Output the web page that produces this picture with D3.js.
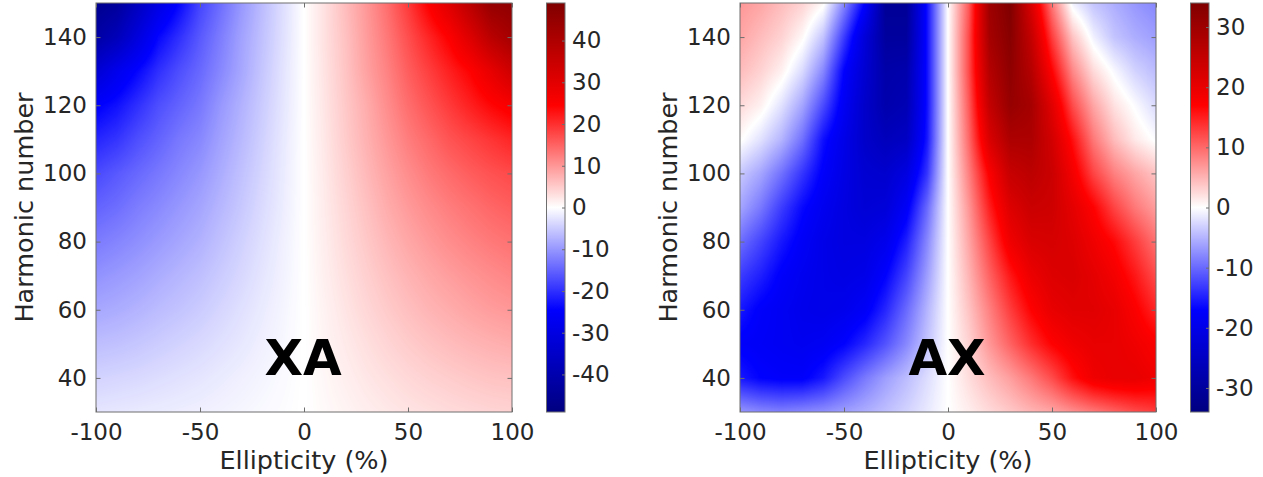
<!DOCTYPE html>
<html>
<head>
<meta charset="utf-8">
<script src="https://cdn.jsdelivr.net/npm/d3@7"></script>
<style>
  body { margin: 0; background: #ffffff; }
  svg { display: block; }
  text { font-family: "DejaVu Sans", sans-serif; }
</style>
</head>
<body>
<svg id="chart" width="1263" height="477"></svg>
<script>
// ---------------- data ----------------
const ellipticity = [-100, -90, -80, -70, -60, -50, -40, -30, -20, -10, 0, 10, 20, 30, 40, 50, 60, 70, 80, 90, 100];
const harmonics = [30, 40, 50, 60, 70, 80, 90, 100, 110, 120, 130, 140, 150];

// XA panel: one row per harmonic (30 .. 150), one value per ellipticity (-100 .. 100)
const xaValues = [
  [-2.5, -2.3, -2.1, -1.9, -1.7, -1.5, -1.2, -0.9, -0.6, -0.3, 0, 0.6, 1.1, 1.7, 2.2, 2.7, 3.1, 3.5, 3.8, 4.1, 4.3],
  [-4.3, -4, -3.7, -3.3, -2.9, -2.5, -2, -1.5, -1, -0.5, 0, 0.8, 1.6, 2.4, 3.1, 3.8, 4.4, 4.9, 5.4, 5.8, 6],
  [-6.3, -6, -5.5, -4.9, -4.3, -3.7, -3, -2.3, -1.5, -0.8, 0, 1.1, 2.1, 3.1, 4.1, 5, 5.8, 6.5, 7.1, 7.6, 8],
  [-8.5, -8, -7.3, -6.5, -5.8, -5, -4, -3, -2, -1, 0, 1.3, 2.6, 3.9, 5.1, 6.2, 7.2, 8, 8.8, 9.5, 10],
  [-10.5, -9.8, -9, -8, -7.1, -6.2, -5, -3.8, -2.5, -1.3, 0, 1.6, 3.1, 4.6, 6, 7.3, 8.4, 9.4, 10.3, 11.1, 11.8],
  [-12.7, -11.8, -10.8, -9.7, -8.6, -7.5, -6, -4.5, -3, -1.5, 0, 1.8, 3.6, 5.3, 7, 8.5, 9.8, 11, 12, 12.9, 13.6],
  [-15, -14, -12.5, -11.3, -10, -8.7, -7, -5.3, -3.5, -1.8, 0, 2, 4, 6, 8, 9.7, 11.2, 12.5, 13.6, 14.7, 15.5],
  [-17.5, -16, -14.5, -13, -11.5, -10, -8, -6, -4, -2, 0, 2.2, 4.5, 6.8, 9, 11, 12.8, 14.3, 15.6, 16.7, 17.5],
  [-21, -19.5, -17, -15, -13, -11.5, -9, -6.8, -4.5, -2.2, 0, 2.4, 5, 7.5, 10, 12.5, 14.5, 16.5, 18, 19.5, 21],
  [-25, -23, -20, -17, -15, -13, -10, -7.5, -5, -2.5, 0, 2.6, 5.3, 8, 11, 14, 16.5, 19, 21.5, 24, 26],
  [-33, -28, -24, -20, -17, -14.5, -11.5, -8.5, -5.5, -2.7, 0, 2.8, 5.7, 9, 12, 15.5, 18.5, 21.5, 24.5, 29, 34],
  [-42, -38, -31, -24, -20, -16, -12.5, -9, -6, -3, 0, 3, 6, 9.5, 13, 17, 21, 25, 31, 38, 42],
  [-46, -44, -37, -30, -24, -18, -14, -10, -6.5, -3.2, 0, 3, 6.5, 10, 14, 19, 25, 31, 38, 45, 46]
];

// AX panel: one row per harmonic (30 .. 150), one value per ellipticity (-100 .. 100)
const axValues = [
  [-7, -8, -8.5, -8, -7.5, -6.5, -5.5, -4.3, -3, -1.5, 0, 1.2, 2.5, 3.7, 5, 6, 7.5, 9, 10.5, 12, 13],
  [-15.5, -17, -17.5, -17.5, -15.5, -12, -9, -6.5, -4.5, -2.3, 0, 2.3, 4.5, 6.5, 9, 12, 16, 19, 20, 20, 19],
  [-17.5, -18, -18.5, -19, -18.5, -17, -14.5, -11.5, -8, -4, 0, 3, 7, 10.5, 14, 17, 19, 20, 20, 19, 17.5],
  [-15.5, -17.5, -18.5, -19.5, -20, -19.5, -18, -14.5, -10, -5, 0, 4, 8.5, 13, 17, 20, 21, 21, 20, 17.5, 14.5],
  [-13, -15, -17.5, -19, -20, -20.5, -20, -17, -12.5, -6.5, 0, 5, 10.5, 15.5, 19.5, 21.5, 22, 20.5, 18.5, 15.5, 12],
  [-9.7, -12.5, -15.5, -18, -20, -21, -21, -19.5, -15, -8, 0, 6, 12.5, 19, 22, 22.5, 21.5, 19, 16.5, 13, 9.5],
  [-6, -9, -13, -16.5, -19, -21, -22.5, -22, -18, -10, 0, 7, 15, 21.5, 24, 23.5, 20.5, 17, 12.5, 9, 6.5],
  [-3.7, -6, -9.5, -13.5, -17.5, -20.5, -23, -23.5, -21, -13.5, 0, 8.5, 17.5, 24.5, 26, 24, 18.5, 12.5, 8.5, 6, 4],
  [0.3, -2, -5, -9.5, -16, -20, -24, -26, -25, -15.5, 0, 10, 22, 28, 28, 23, 16, 9, 4.5, 1.5, -0.3],
  [2.5, 1, -2, -6, -12, -18.5, -24, -28, -27, -16, 0, 11, 25, 31, 29, 21, 12, 6, 2, -0.3, -2.5],
  [4.5, 3, 1, -2.5, -8, -17, -23, -28.5, -28, -16, 0, 12, 27, 32, 27, 17, 8, 2.5, -0.5, -3, -4.5],
  [6, 4.5, 3, 0.5, -4, -13, -22, -30, -30, -16, 0, 12, 29, 33, 25, 13, 4, -1, -4, -5.5, -6.5],
  [7, 6, 4.5, 3, 0.5, -8, -17, -31, -31, -16, 0, 11, 30, 34, 22, 9, -1, -4, -5.5, -7, -8]
];

const xTicks = [-100, -50, 0, 50, 100];
const yTicks = [40, 60, 80, 100, 120, 140];
const xaColorTicks = [-40, -30, -20, -10, 0, 10, 20, 30, 40];
const axColorTicks = [-30, -20, -10, 0, 10, 20, 30];
const xaLimit = 49;
const axLimit = 34;
const panelNames = ["XA", "AX"];
const xLabel = "Ellipticity (%)";
const yLabel = "Harmonic number";
const colormapColors = ["#000080", "#0000ff", "#ffffff", "#ff0000", "#800000"];

// ---------------- drawing ----------------
const svg = d3.select("#chart");
const defs = svg.append("defs");
const TEXT = "#262626";
const AXIS = "#6e6e6e";
const TICK_FONT = "23px";
const LABEL_FONT = "25.5px";
const fmt = d => String(d);   // plain hyphen-minus like the reference

const panels = [
  { name: panelNames[0], values: xaValues, limit: xaLimit, cticks: xaColorTicks,
    x0: 96, x1: 512, y0: 3, y1: 412, cb0: 546.5, cb1: 565, yLabelX: 33 },
  { name: panelNames[1], values: axValues, limit: axLimit, cticks: axColorTicks,
    x0: 740, x1: 1156, y0: 3, y1: 412, cb0: 1190.5, cb1: 1209, yLabelX: 677 }
];

const xIndex = d3.scaleLinear().domain(ellipticity).range(ellipticity.map((_, i) => i)).clamp(true);
const hIndex = d3.scaleLinear().domain(harmonics).range(harmonics.map((_, i) => i)).clamp(true);

function sample(grid, x, h) {
  const fi = xIndex(x), fj = hIndex(h);
  const i0 = Math.min(Math.floor(fi), ellipticity.length - 2);
  const j0 = Math.min(Math.floor(fj), harmonics.length - 2);
  const tx = fi - i0, ty = fj - j0;
  const a = grid[j0][i0], b = grid[j0][i0 + 1];
  const c = grid[j0 + 1][i0], d = grid[j0 + 1][i0 + 1];
  return (a * (1 - tx) + b * tx) * (1 - ty) + (c * (1 - tx) + d * tx) * ty;
}

panels.forEach((p, k) => {
  const M = p.limit;
  const xs = d3.scaleLinear().domain(d3.extent(ellipticity)).range([p.x0, p.x1]);
  const ys = d3.scaleLinear().domain(d3.extent(harmonics)).range([p.y1, p.y0]);
  const color = d3.scaleLinear()
    .domain([-M, -M / 2, 0, M / 2, M])
    .range(colormapColors)
    .clamp(true);

  // colour lookup table
  const N = 1024;
  const lut = d3.range(N).map(i => d3.rgb(color(-M + (2 * M) * i / (N - 1))));

  // heat map (interpolated shading of the grid)
  const W = Math.round(p.x1 - p.x0), H = Math.round(p.y1 - p.y0);
  const canvas = document.createElement("canvas");
  canvas.width = W; canvas.height = H;
  const ctx = canvas.getContext("2d");
  const img = ctx.createImageData(W, H);
  for (let py = 0; py < H; py++) {
    const h = ys.invert(p.y0 + py + 0.5);
    for (let px = 0; px < W; px++) {
      const x = xs.invert(p.x0 + px + 0.5);
      const v = sample(p.values, x, h);
      let li = Math.round((v + M) / (2 * M) * (N - 1));
      li = Math.max(0, Math.min(N - 1, li));
      const c = lut[li];
      const o = (py * W + px) * 4;
      img.data[o] = c.r; img.data[o + 1] = c.g; img.data[o + 2] = c.b; img.data[o + 3] = 255;
    }
  }
  ctx.putImageData(img, 0, 0);

  const g = svg.append("g").attr("class", "panel-" + p.name);
  g.append("image")
    .attr("x", p.x0).attr("y", p.y0)
    .attr("width", p.x1 - p.x0).attr("height", p.y1 - p.y0)
    .attr("preserveAspectRatio", "none")
    .attr("href", canvas.toDataURL());

  // axes (ticks inside on all four sides)
  const tl = 4.5;
  const axB = g.append("g").attr("transform", `translate(0,${p.y1})`)
    .call(d3.axisBottom(xs).tickValues(xTicks).tickSize(-tl).tickPadding(12).tickFormat(fmt));
  const axT = g.append("g").attr("transform", `translate(0,${p.y0})`)
    .call(d3.axisTop(xs).tickValues(xTicks).tickSize(-tl).tickFormat(""));
  const axL = g.append("g").attr("transform", `translate(${p.x0},0)`)
    .call(d3.axisLeft(ys).tickValues(yTicks).tickSize(-tl).tickPadding(9).tickFormat(fmt));
  const axR = g.append("g").attr("transform", `translate(${p.x1},0)`)
    .call(d3.axisRight(ys).tickValues(yTicks).tickSize(-tl).tickFormat(""));
  [axB, axT, axL, axR].forEach(a => {
    a.select(".domain").remove();
    a.selectAll(".tick line").attr("stroke", AXIS).attr("stroke-width", 1);
    a.selectAll(".tick text").attr("fill", TEXT).style("font-size", TICK_FONT)
      .style("font-family", "'DejaVu Sans', sans-serif");
  });
  g.append("rect")
    .attr("x", p.x0).attr("y", p.y0)
    .attr("width", p.x1 - p.x0).attr("height", p.y1 - p.y0)
    .attr("fill", "none").attr("stroke", AXIS).attr("stroke-width", 1);

  // axis labels
  g.append("text")
    .attr("x", (p.x0 + p.x1) / 2).attr("y", 469)
    .attr("text-anchor", "middle").attr("fill", TEXT)
    .style("font-size", LABEL_FONT)
    .text(xLabel);
  g.append("text")
    .attr("transform", `translate(${p.yLabelX},${(p.y0 + p.y1) / 2}) rotate(-90)`)
    .attr("text-anchor", "middle").attr("fill", TEXT)
    .style("font-size", LABEL_FONT)
    .text(yLabel);

  // panel name
  g.append("text")
    .attr("x", xs(0) - 1).attr("y", 375)
    .attr("text-anchor", "middle").attr("fill", "#000")
    .style("font-size", "50px").style("font-weight", "bold")
    .text(p.name);

  // colorbar
  const cs = d3.scaleLinear().domain([-M, M]).range([p.y1, p.y0]);
  const gid = "grad" + k;
  const grad = defs.append("linearGradient").attr("id", gid)
    .attr("x1", 0).attr("y1", 1).attr("x2", 0).attr("y2", 0);
  color.domain().forEach((d, i) => {
    grad.append("stop").attr("offset", (d + M) / (2 * M)).attr("stop-color", color.range()[i]);
  });
  g.append("rect")
    .attr("x", p.cb0).attr("y", p.y0)
    .attr("width", p.cb1 - p.cb0).attr("height", p.y1 - p.y0)
    .attr("fill", `url(#${gid})`)
    .attr("stroke", AXIS).attr("stroke-width", 1);
  const axC = g.append("g").attr("transform", `translate(${p.cb1},0)`)
    .call(d3.axisRight(cs).tickValues(p.cticks).tickSize(-3).tickPadding(7).tickFormat(fmt));
  axC.select(".domain").remove();
  axC.selectAll(".tick line").attr("stroke", AXIS);
  axC.selectAll(".tick text").attr("fill", TEXT).style("font-size", TICK_FONT)
    .style("font-family", "'DejaVu Sans', sans-serif");
});
</script>
</body>
</html>
